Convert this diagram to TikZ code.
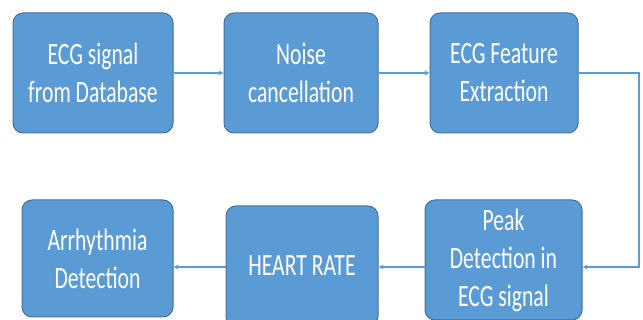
\documentclass[tikz,border=0pt]{standalone}
\usepackage{fontspec}
\newfontfamily\blockfont[FakeStretch=0.7]{Carlito}
\usetikzlibrary{positioning}
\definecolor{blockfill}{HTML}{5B9BD5}
\definecolor{blockdraw}{HTML}{41719C}
\definecolor{linkcol}{HTML}{5B9BD5}
\tikzset{%
    block/.style={
      rectangle,
      rounded corners=10pt,
      draw=blockdraw,
      line width=1pt,
      fill=blockfill,
      text=white,
      align=center,
      minimum height=120pt,
      font=\blockfont\fontsize{31}{38}\selectfont
    },
    link/.style={
      ->,
      draw=linkcol,
      line width=1.2pt
    }
  }
\begin{document}
\begin{tikzpicture}[x=1pt, y=-1pt, >=stealth]
      \useasboundingbox (0,0) rectangle (643,320);
      \clip (0,0) rectangle (643,320);

      \node [block, minimum width=160pt] (db) at (93,73) {ECG signal\\from Database};
      \node [block, minimum width=154pt] (noise) at (301,73) {Noise\\cancellation};
      \node [block, minimum width=148pt] (feat) at (504,73) {ECG Feature\\Extraction};

      \node [block, minimum width=151pt, minimum height=117pt] (arr) at (97.5,258.5) {Arrhythmia\\Detection};
      \node [block, minimum width=152pt] (hr) at (302,266) {HEART RATE};
      \node [block, minimum width=157pt] (peak) at (503.5,260) {Peak\\Detection in\\ECG signal};

      \coordinate (turn) at (639,73);

      \draw [link] (db.east |- 0,73) -- (noise.west |- 0,73);
      \draw [link] (noise.east |- 0,73) -- (feat.west |- 0,73);
      \draw [link] (feat.east |- turn) -- (turn) -- (turn |- 0,267) -- (peak.east |- 0,267);
      \draw [link] (peak.west |- 0,267) -- (hr.east |- 0,267);
      \draw [link] (hr.west |- 0,267) -- (arr.east |- 0,267);
\end{tikzpicture}
\end{document}
